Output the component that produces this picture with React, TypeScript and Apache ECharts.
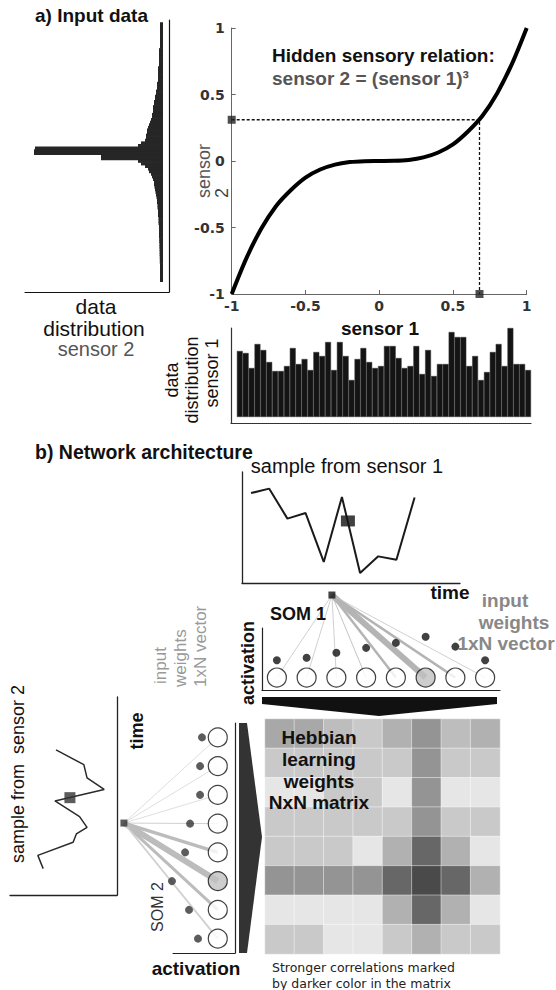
import React, { useEffect, useRef } from "react";
import * as echarts from "echarts";

const FONT = "'Liberation Sans', Arial, sans-serif";

// a) sensor 2 distribution: 100 bins, from +1 (top) to -1 (bottom)
const sensor2Hist = [
  3, 3, 3, 3, 3, 3, 3, 3, 3, 3, 4, 4, 4, 4, 4, 4, 4, 5, 5, 5, 5, 5, 5, 6, 6, 6, 7, 7, 8, 8,
  9, 9, 10, 10, 10, 11, 11, 12, 13, 14, 15, 16, 16, 17, 17, 18, 22, 25, 128, 129, 129, 62, 62,
  25, 22, 18, 15, 14, 12, 11, 10, 9, 9, 8.5, 8, 7.5, 7, 6.5, 6, 6, 5.5, 5.5, 5, 5, 5, 4.5, 4.5,
  4.5, 4, 4, 4, 4, 4, 3.8, 3.8, 3.6, 3.6, 3.5, 3.4, 3.4, 3.3, 3.2, 3.2, 3, 3, 3, 3, 3, 3, 3,
];
// sensor 1 distribution: 50 bins from -1 to 1
const sensor1Hist = [
  66, 64, 49, 73, 67, 55, 46, 46, 51, 69, 53, 58, 47, 65, 61, 75, 47, 75, 61, 37, 58, 69, 55, 49,
  51, 71, 71, 59, 49, 51, 71, 43, 67, 41, 53, 53, 85, 80, 80, 51, 61, 37, 45, 65, 73, 51, 89, 53,
  53, 47,
];
// hidden relation curve
const curveX = [-1, -0.9, -0.8, -0.7, -0.6, -0.5, -0.4, -0.3, -0.2, -0.1, 0, 0.1, 0.2, 0.3, 0.4, 0.5, 0.6, 0.7, 0.8, 0.9, 1];
const curveY = [-1, -0.73, -0.51, -0.34, -0.22, -0.125, -0.064, -0.027, -0.008, -0.001, 0, 0.001, 0.008, 0.027, 0.064, 0.125, 0.22, 0.34, 0.51, 0.73, 1];
const samplePoint = [0.68, 0.31];

// b) samples
const sample1Time = [0.5, 1.5, 2.5, 3.5, 4.5, 5.5, 6.5, 7.5, 8.5, 9.5];
const sample1Value = [8.1, 8.5, 5.8, 6.3, 1.9, 7.75, 0.9, 2.4, 2.1, 7.7];
const sample1Marker = [5.83, 5.59];
const sample2Value = [3.1, 2.6, 5.9, 6.2, 7.2, 6.5, 4.2, 8.8, 7.2, 6.9, 4.3];
const sample2Time = [1.6, 2.4, 3.2, 3.7, 4.1, 4.75, 5.7, 6.4, 7.1, 7.9, 8.8];
const sample2Marker = [5.6, 5.9];

// SOMs
const somNodes = [0, 1, 2, 3, 4, 5, 6, 7];
const som1Activation = [1.4, 1.6, 2.0, 2.4, 2.8, 3.3, 2.5, 1.4];
const som1LinkWidth = [0.8, 0.8, 0.8, 1, 2.5, 6, 2.5, 0.8];
const som1Winner = 5;
const som1Source = [1.85, 6.66];
const som2Activation = [0.92, 1.03, 1.03, 1.61, 1.9, 2.66, 1.67, 1.15];
const som2LinkWidth = [0.7, 0.7, 0.7, 1, 3.5, 6, 3, 1.8];
const som2Winner = 5;
const som2Source = [5.45, 2.98];

// Hebbian NxN matrix (rows top to bottom), 1 = weak, 6 = strong
const hebbian = [
  [3.3, 3.3, 2.5, 2, 3, 4, 2.5, 3],
  [2, 2, 2, 2, 2, 4, 2, 2],
  [1, 1, 2, 2, 1, 4, 1, 1],
  [2, 2, 2, 2, 2, 4, 2, 2],
  [2, 2, 2, 1, 3, 5, 3, 1],
  [4, 4, 4, 4, 5, 6, 5, 3],
  [1, 1, 1, 1, 3, 5, 3, 1],
  [2, 2, 1, 1, 2, 3, 2, 2],
];
const grayScale = ["#e6e6e6", "#c9c9c9", "#b1b1b1", "#949494", "#676767", "#4a4a4a"];

const hidden = {
  axisLine: { show: false },
  axisTick: { show: false },
  axisLabel: { show: false },
  splitLine: { show: false },
};
const lined = (color = "#222", width = 1.2, show = true) => ({
  axisLine: { show, onZero: false, lineStyle: { color, width } },
  axisTick: { show: false },
  axisLabel: { show: false },
  splitLine: { show: false },
});

type TOpt = { rot?: boolean; bold?: boolean; size?: number; color?: string; align?: string; family?: string };
const txt = (text: string, x: number, y: number, o: TOpt = {}) => ({
  type: "text",
  x,
  y,
  rotation: o.rot ? Math.PI / 2 : 0,
  z: 100,
  style: {
    text,
    fill: o.color || "#111",
    fontSize: o.size || 17,
    fontWeight: o.bold ? "bold" : "normal",
    fontFamily: o.family || FONT,
    align: o.align || "center",
    verticalAlign: "middle",
  },
});

function buildOption() {
  const hist2Cats = ["top", ...sensor2Hist.map((_, i) => "b" + i), "e1", "e2", "e3", "e4"];
  const hist2Vals = [null, ...sensor2Hist, null, null, null, null];
  const hist1Cats = ["start", ...sensor1Hist.map((_, i) => "s" + i)];
  const hist1Vals = [null, ...sensor1Hist];

  const cubeTickLabel = { color: "#333", fontWeight: "bold", fontFamily: "DejaVu Sans", fontSize: 14 };

  const xAxis: any[] = [
    { type: "value", gridIndex: 0, inverse: true, min: -6, max: 138, ...lined("#111", 1.2) },
    {
      type: "value", gridIndex: 1, min: -1, max: 1, interval: 0.5,
      axisLine: { onZero: false, lineStyle: { color: "#666", width: 1 } },
      axisTick: { inside: true, length: 4, lineStyle: { color: "#666" } },
      axisLabel: { ...cubeTickLabel, margin: 5 },
      splitLine: { show: false },
    },
    { type: "category", gridIndex: 2, data: hist1Cats, ...lined("#333", 1.2) },
    { type: "value", gridIndex: 3, min: 0, max: 12, ...lined("#222", 1.3) },
    { type: "value", gridIndex: 4, min: -0.5, max: 7.5, ...lined("#222", 1.2) },
    { type: "value", gridIndex: 5, min: 0, max: 10, ...lined("#222", 1.3) },
    { type: "value", gridIndex: 6, inverse: true, min: -1, max: 2.6, ...lined("#222", 1.2) },
    { type: "category", gridIndex: 7, data: somNodes.map((n) => "c" + n), ...hidden },
  ];
  const yAxis: any[] = [
    { type: "category", gridIndex: 0, inverse: true, position: "right", data: hist2Cats, ...lined("#111", 1.2) },
    {
      type: "value", gridIndex: 1, min: -1, max: 1, interval: 0.5,
      axisLine: { show: true, onZero: false, lineStyle: { color: "#666", width: 1 } },
      axisTick: { show: true, inside: true, length: 4, lineStyle: { color: "#666" } },
      axisLabel: { ...cubeTickLabel, margin: 7 },
      splitLine: { show: false },
    },
    { type: "value", gridIndex: 2, min: -6, max: 89, ...lined("#333", 1.2) },
    { type: "value", gridIndex: 3, min: 0, max: 10, ...lined("#222", 1.3) },
    { type: "value", gridIndex: 4, min: -1, max: 4, ...lined("#222", 1.2) },
    { type: "value", gridIndex: 5, position: "right", min: 0, max: 12, ...lined("#222", 1.3) },
    { type: "value", gridIndex: 6, position: "right", inverse: true, min: -0.5, max: 7.5, ...lined("#222", 1.2) },
    { type: "category", gridIndex: 7, inverse: true, data: somNodes.map((n) => "r" + n), ...hidden },
  ];

  const grid = [
    { left: 25, top: 20, width: 144, height: 272 },
    { left: 231.7, top: 28, width: 295, height: 266 },
    { left: 231, top: 328, width: 300, height: 95 },
    { left: 242, top: 472, width: 218, height: 111 },
    { left: 262, top: 628, width: 238, height: 62 },
    { left: 10, top: 697, width: 107, height: 198 },
    { left: 173, top: 723, width: 62, height: 230 },
    { left: 265, top: 719, width: 235, height: 235 },
  ];

  const series: any[] = [];
  // a) left histogram
  series.push({
    type: "bar", xAxisIndex: 0, yAxisIndex: 0, data: hist2Vals, barWidth: 3.3,
    itemStyle: { color: "#262626" }, silent: true,
  });
  // cubic relation
  series.push({
    type: "line", xAxisIndex: 1, yAxisIndex: 1, data: curveX.map((x, i) => [x, curveY[i]]),
    smooth: 0.3, showSymbol: false, symbol: "none", lineStyle: { color: "#000", width: 4 }, z: 5,
  });
  series.push({
    type: "line", xAxisIndex: 1, yAxisIndex: 1,
    data: [[-1, samplePoint[1]], samplePoint, [samplePoint[0], -1]],
    symbol: "none", lineStyle: { color: "#111", width: 1.3, type: [3, 2] }, z: 4,
  });
  series.push({
    type: "scatter", xAxisIndex: 1, yAxisIndex: 1, clip: false,
    data: [[-1, samplePoint[1]], [samplePoint[0], -1]],
    symbol: "rect", symbolSize: 8, itemStyle: { color: "#222" }, z: 6,
  });
  // sensor 1 histogram
  series.push({
    type: "bar", xAxisIndex: 2, yAxisIndex: 2, data: hist1Vals, barCategoryGap: "0%",
    itemStyle: { color: "#141414", borderColor: "#3a3a3a", borderWidth: 0.5 }, silent: true,
  });
  // sample from sensor 1
  series.push({
    type: "line", xAxisIndex: 3, yAxisIndex: 3, data: sample1Time.map((t, i) => [t, sample1Value[i]]),
    symbol: "none", lineStyle: { color: "#1a1a1a", width: 2 },
  });
  series.push({
    type: "scatter", xAxisIndex: 3, yAxisIndex: 3, data: [sample1Marker],
    symbol: "rect", symbolSize: [14, 11], itemStyle: { color: "#111" }, z: 6,
  });
  // SOM 1
  series.push({
    type: "lines", coordinateSystem: "cartesian2d", xAxisIndex: 4, yAxisIndex: 4, clip: false,
    data: somNodes.map((n) => ({
      coords: [som1Source, [n, 0]],
      lineStyle: { width: som1LinkWidth[n], color: som1LinkWidth[n] > 2 ? "#b4b4b4" : "#c4c4c4", opacity: 1 },
    })),
    lineStyle: { curveness: 0 }, z: 2,
  });
  series.push({
    type: "scatter", xAxisIndex: 4, yAxisIndex: 4, clip: false, data: [som1Source],
    symbol: "rect", symbolSize: 7, itemStyle: { color: "#111" }, z: 6,
  });
  series.push({
    type: "scatter", xAxisIndex: 4, yAxisIndex: 4, clip: false,
    data: somNodes.map((n) => ({
      value: [n, 0],
      itemStyle: { color: n === som1Winner ? "#c0c0c0" : "#fff" },
    })),
    symbolSize: 19, itemStyle: { borderColor: "#111", borderWidth: 1.2 }, z: 5,
  });
  series.push({
    type: "scatter", xAxisIndex: 4, yAxisIndex: 4, clip: false,
    data: somNodes.map((n) => [n, som1Activation[n]]),
    symbolSize: 8, itemStyle: { color: "#111" }, z: 5,
  });
  // sample from sensor 2
  series.push({
    type: "line", xAxisIndex: 5, yAxisIndex: 5, data: sample2Value.map((v, i) => [v, sample2Time[i]]),
    symbol: "none", lineStyle: { color: "#2a2a2a", width: 1.5 },
  });
  series.push({
    type: "scatter", xAxisIndex: 5, yAxisIndex: 5, data: [sample2Marker],
    symbol: "rect", symbolSize: 11, itemStyle: { color: "#333" }, z: 6,
  });
  // SOM 2
  series.push({
    type: "lines", coordinateSystem: "cartesian2d", xAxisIndex: 6, yAxisIndex: 6, clip: false,
    data: somNodes.map((n) => ({
      coords: [som2Source, [0, n]],
      lineStyle: { width: som2LinkWidth[n], color: som2LinkWidth[n] > 2 ? "#bcbcbc" : "#d0d0d0", opacity: 1 },
    })),
    lineStyle: { curveness: 0 }, z: 2,
  });
  series.push({
    type: "scatter", xAxisIndex: 6, yAxisIndex: 6, clip: false, data: [som2Source],
    symbol: "rect", symbolSize: 7, itemStyle: { color: "#333" }, z: 6,
  });
  series.push({
    type: "scatter", xAxisIndex: 6, yAxisIndex: 6, clip: false,
    data: somNodes.map((n) => ({
      value: [0, n],
      itemStyle: { color: n === som2Winner ? "#c0c0c0" : "#fff" },
    })),
    symbolSize: 19, itemStyle: { borderColor: "#111", borderWidth: 1.2 }, z: 5,
  });
  series.push({
    type: "scatter", xAxisIndex: 6, yAxisIndex: 6, clip: false,
    data: somNodes.map((n) => [som2Activation[n], n]),
    symbolSize: 8, itemStyle: { color: "#333" }, z: 5,
  });
  // Hebbian matrix
  const heatIndex = series.length;
  const heatData: number[][] = [];
  hebbian.forEach((row, r) => row.forEach((v, c) => heatData.push([c, r, v])));
  series.push({
    type: "heatmap", xAxisIndex: 7, yAxisIndex: 7, data: heatData,
    itemStyle: { borderColor: "rgba(255,255,255,0.55)", borderWidth: 0.8 }, silent: true,
  });

  const graphic: any[] = [
    txt("a) Input data", 35, 15, { bold: true, align: "left", size: 19 }),
    txt("data", 96, 306, { size: 21 }),
    txt("distribution", 94, 328, { size: 21 }),
    txt("sensor 2", 96, 349, { size: 20, color: "#555" }),
    txt("Hidden sensory relation:", 272, 55, { bold: true, align: "left", size: 19 }),
    txt("sensor 2 = (sensor 1)\u00b3", 272, 78, { bold: true, align: "left", size: 19, color: "#555" }),
    txt("sensor", 204, 198, { rot: true, align: "left", size: 18, color: "#555" }),
    txt("2", 222, 198, { rot: true, align: "left", size: 18, color: "#444" }),
    txt("sensor 1", 380, 328, { bold: true, size: 19 }),
    txt("data", 172, 380, { rot: true, size: 18 }),
    txt("distribution", 192, 380, { rot: true, size: 18 }),
    txt("sensor 1", 212, 373, { rot: true, size: 18 }),
    txt("b) Network architecture", 35, 452, { bold: true, align: "left", size: 19.5 }),
    txt("sample from sensor 1", 347, 466, { size: 20 }),
    txt("time", 450, 592, { bold: true, size: 19 }),
    txt("SOM 1", 298, 614, { bold: true, size: 18 }),
    txt("activation", 248, 663, { bold: true, rot: true, size: 18 }),
    txt("input", 505, 600, { bold: true, size: 19, color: "#888" }),
    txt("weights", 514, 622, { bold: true, size: 19, color: "#888" }),
    txt("1xN vector", 506, 643, { bold: true, size: 19, color: "#888" }),
    txt("sample from  sensor 2", 18, 774, { rot: true, size: 18 }),
    txt("time", 137, 731, { bold: true, rot: true, size: 18 }),
    txt("input", 160, 684, { rot: true, align: "left", size: 17, color: "#999" }),
    txt("weights", 180, 687, { rot: true, align: "left", size: 17, color: "#999" }),
    txt("1xN vector", 200, 687, { rot: true, align: "left", size: 17, color: "#999" }),
    txt("SOM 2", 157, 907, { rot: true, size: 16, color: "#333" }),
    txt("activation", 196, 968, { bold: true, size: 19 }),
    txt("Hebbian", 319, 737, { bold: true, size: 19 }),
    txt("learning", 319, 759, { bold: true, size: 19 }),
    txt("weights", 319, 781, { bold: true, size: 19 }),
    txt("NxN matrix", 319, 802, { bold: true, size: 19 }),
    txt("Stronger correlations marked", 272, 967, { align: "left", size: 12.5, family: "'DejaVu Sans'", color: "#222" }),
    txt("by darker color in the matrix", 272, 983, { align: "left", size: 12.5, family: "'DejaVu Sans'", color: "#222" }),
    {
      type: "polygon", z: 50,
      shape: { points: [[262, 697], [497, 697], [497, 704], [379, 716], [262, 704]] },
      style: { fill: "#111" },
    },
    {
      type: "polygon", z: 50,
      shape: { points: [[239, 723], [247, 723], [262, 837], [247, 953], [239, 953]] },
      style: { fill: "#333" },
    },
  ];

  return {
    animation: false,
    backgroundColor: "#fff",
    grid,
    xAxis,
    yAxis,
    visualMap: [
      { type: "continuous", show: false, min: 1, max: 6, seriesIndex: heatIndex, inRange: { color: grayScale } },
    ],
    series,
    graphic,
  };
}

export default function App() {
  const ref = useRef<HTMLDivElement>(null);
  useEffect(() => {
    document.body.style.margin = "0";
    const chart = echarts.init(ref.current!, undefined, { renderer: "svg", width: 556, height: 990 });
    chart.setOption(buildOption() as any);
    return () => chart.dispose();
  }, []);
  return (
    <div
      ref={ref}
      style={{ position: "absolute", left: 0, top: 0, width: 556, height: 990, background: "#fff" }}
    />
  );
}
